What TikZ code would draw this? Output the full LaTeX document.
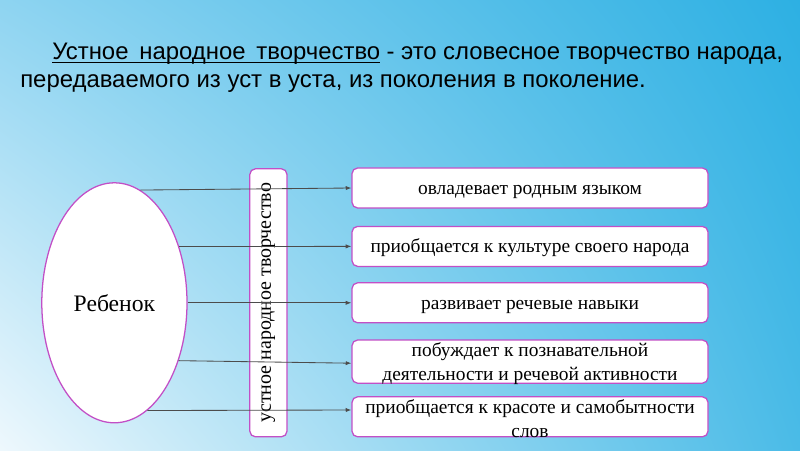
\documentclass[tikz,border=0pt]{standalone}
\usepackage{fontspec}
\setmainfont{Liberation Serif}
\newfontfamily\titlefont{Liberation Sans}
\usetikzlibrary{arrows.meta,positioning,shapes.geometric,shadings}
\definecolor{bgpale}{HTML}{EEF8FD}
\definecolor{bgleft}{HTML}{8ED4F1}
\definecolor{bgright}{HTML}{2DB0E3}
\definecolor{bglowr}{HTML}{4ABBE7}
\definecolor{mgborder}{HTML}{C24FC6}
\newcommand{\termline}[1]{\setbox0\hbox spread 6pt{#1}\rlap{\rule[-2.2pt]{\wd0}{0.9pt}}\box0\relax}
\newcommand{\lowtext}[1]{\raisebox{0pt}[\height][\dimexpr\depth-0.44cm\relax]{#1}}
\tikzset{
  childnode/.style={ellipse,draw=mgborder,fill=white,line width=0.9pt,minimum width=3.63cm,minimum height=6.0cm,inner sep=0pt,font=\fontsize{16.8}{19}\selectfont},
  folkbox/.style={rectangle,rounded corners=4pt,draw=mgborder,fill=white,line width=0.9pt,rotate=90,minimum width=6.7cm,minimum height=0.93cm,inner sep=0pt,font=\fontsize{14.2}{16}\selectfont},
  boxbase/.style={rectangle,rounded corners=4pt,draw=mgborder,fill=white,line width=0.9pt,minimum width=8.9cm,minimum height=1.0cm,inner sep=0pt,font=\fontsize{13.8}{17}\selectfont},
  oneline/.style={boxbase,text height=11pt,text depth=2pt},
  restext/.style={align=center,inner sep=0pt,font=\fontsize{13.8}{17}\selectfont},
  linkarrow/.style={-{Latex[length=4pt,width=3pt]},draw=black!70,line width=0.6pt},
  titletext/.style={anchor=north west,text width=19.075cm,align=justify,inner sep=0pt,font=\titlefont\fontsize{17}{19.9}\selectfont},
}
\begin{document}
\begin{tikzpicture}
  \shade[upper left=bgleft,upper right=bgright,lower left=bgpale,lower right=bglowr] (0,0) rectangle (20,11.25);
  \node[titletext] (title) at (0.50,10.17) {\hspace*{0.8cm}\termline{Устное народное творчество} - это словесное творчество народа,\linebreak передаваемого из уст в уста, из поколения в поколение.};
  \node[childnode] (child) at (2.86,3.68) {Ребенок};
  \node[folkbox] (folk) at (6.71,3.68) {устное народное творчество};
  \node[oneline] (b1) at (13.25,6.55) {овладевает родным языком};
  \node[oneline] (b2) at (13.25,5.09) {приобщается к культуре своего народа};
  \node[oneline] (b3) at (13.25,3.68) {развивает речевые навыки};
  \node[boxbase,minimum height=1.08cm] (b4) at (13.25,2.21) {\lowtext{\shortstack{побуждает к познавательной\\[1.2pt]деятельности и речевой активности}}};
  \node[boxbase] (b5) at (13.25,0.83) {};
  \node[restext] (t5) at ([yshift=-0.05cm]b5.center) {приобщается к красоте и самобытности\\слов};
  \draw[linkarrow] (child.77) -- (b1.west);
  \draw[linkarrow] (child.41) -- (b2.west);
  \draw[linkarrow] (child.0) -- (b3.west);
  \draw[linkarrow] (child.-42) -- ([yshift=-0.04cm]b4.west);
  \draw[linkarrow] (child.-73) -- ([yshift=0.17cm]b5.west);
\end{tikzpicture}
\end{document}
